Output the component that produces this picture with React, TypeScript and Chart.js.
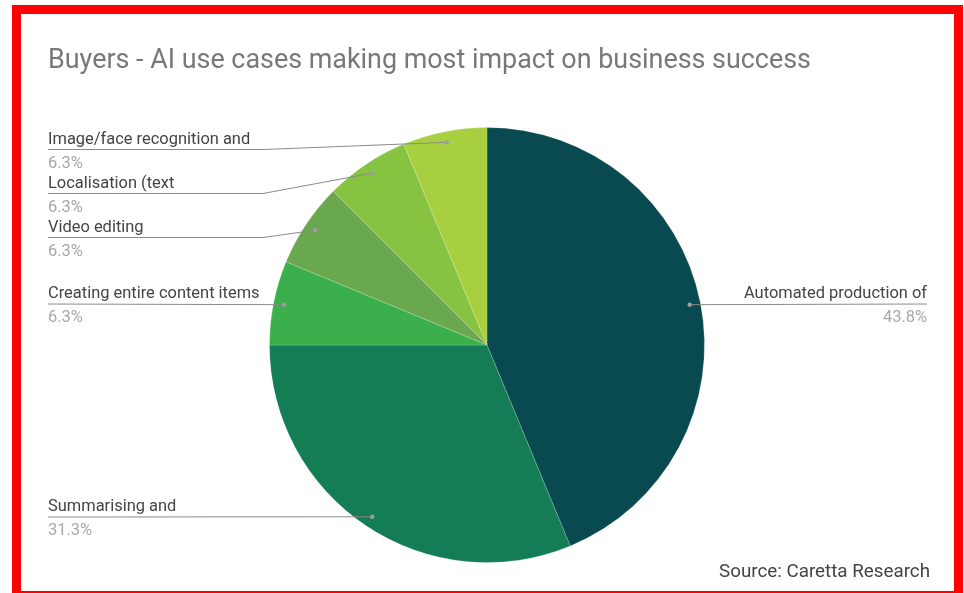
import React, { useEffect, useRef } from "react";
import { Chart, registerables } from "chart.js";

Chart.register(...registerables);

const TITLE = "Buyers - AI use cases making most impact on business success";
const SOURCE = "Source: Caretta Research";

const categories = [
  "Automated production of",
  "Summarising and",
  "Creating entire content items",
  "Video editing",
  "Localisation (text",
  "Image/face recognition and",
];
const shares = [43.75, 31.25, 6.25, 6.25, 6.25, 6.25];
const sliceColors = ["#084a50", "#147d55", "#3aaf4b", "#6aa84f", "#86c341", "#a7cf3f"];

// label layout (side of the pie and y of the underline)
const labelSide = ["right", "left", "left", "left", "left", "left"];
const labelLineY = [304, 517, 304, 237.5, 193.5, 149.5];

const labelsPlugin = {
  id: "sheetLabels",
  afterDraw(chart: any) {
    const ctx = chart.ctx as CanvasRenderingContext2D;
    const meta = chart.getDatasetMeta(0);
    const total = shares.reduce((a, b) => a + b, 0);
    ctx.save();
    ctx.textBaseline = "alphabetic";

    // title
    ctx.font = "26.9px Roboto";
    ctx.fillStyle = "#787878";
    ctx.textAlign = "left";
    ctx.fillText(TITLE, 48, 68);

    meta.data.forEach((arc: any, i: number) => {
      const p = arc.getProps(["x", "y", "startAngle", "endAngle", "outerRadius"], true);
      const mid = (p.startAngle + p.endAngle) / 2;
      const r = p.outerRadius * 0.95;
      const dx = p.x + Math.cos(mid) * r;
      const dy = p.y + Math.sin(mid) * r;
      const uy = labelLineY[i];
      const pct = ((shares[i] / total) * 100).toFixed(1) + "%";

      ctx.strokeStyle = "#8a8a8a";
      ctx.lineWidth = 1;
      ctx.beginPath();
      ctx.font = "16.45px Roboto";
      if (labelSide[i] === "right") {
        const xr = 927;
        ctx.moveTo(dx, dy);
        ctx.lineTo(xr, uy);
        ctx.stroke();
        ctx.textAlign = "right";
        ctx.fillStyle = "#444444";
        ctx.fillText(categories[i], xr, uy - 6);
        ctx.fillStyle = "#a8a8a8";
        ctx.fillText(pct, xr, uy + 18);
      } else {
        const xl = 48;
        const bend = 263;
        ctx.moveTo(xl, uy);
        if (Math.abs(dy - uy) > 3) ctx.lineTo(bend, uy);
        ctx.lineTo(dx, dy);
        ctx.stroke();
        ctx.textAlign = "left";
        ctx.fillStyle = "#444444";
        ctx.fillText(categories[i], xl, uy - 6);
        ctx.fillStyle = "#a8a8a8";
        ctx.fillText(pct, xl, uy + 18);
      }
      ctx.fillStyle = "#9e9e9e";
      ctx.beginPath();
      ctx.arc(dx, dy, 2.2, 0, Math.PI * 2);
      ctx.fill();
    });

    // source
    ctx.font = "18.8px Roboto";
    ctx.fillStyle = "#444444";
    ctx.textAlign = "right";
    ctx.fillText(SOURCE, 930, 577);
    ctx.restore();
  },
};

export default function App() {
  const ref = useRef<HTMLCanvasElement | null>(null);
  useEffect(() => {
    if (!ref.current) return;
    const chart = new Chart(ref.current, {
      type: "pie",
      data: {
        labels: categories,
        datasets: [
          {
            data: shares,
            backgroundColor: sliceColors,
            borderColor: "rgba(255,255,255,0.18)",
            borderWidth: 1,
          },
        ],
      },
      options: {
        responsive: false,
        animation: false,
        layout: { padding: { left: 269, right: 259, top: 127, bottom: 30 } },
        plugins: {
          legend: { display: false },
          tooltip: { enabled: false },
          title: { display: false },
        },
      },
      plugins: [labelsPlugin],
    });
    return () => chart.destroy();
  }, []);

  return (
    <div
      style={{
        position: "absolute",
        left: 0,
        top: 0,
        width: 964,
        height: 593,
        overflow: "hidden",
        background: "#ffffff",
      }}
    >
      <canvas ref={ref} width={964} height={593} style={{ position: "absolute", left: 0, top: 0, width: 964, height: 593 }} />
      <div
        style={{
          position: "absolute",
          left: 12,
          top: 5,
          width: 951,
          height: 595,
          boxSizing: "border-box",
          border: "9px solid #ff0000",
          pointerEvents: "none",
        }}
      />
    </div>
  );
}
